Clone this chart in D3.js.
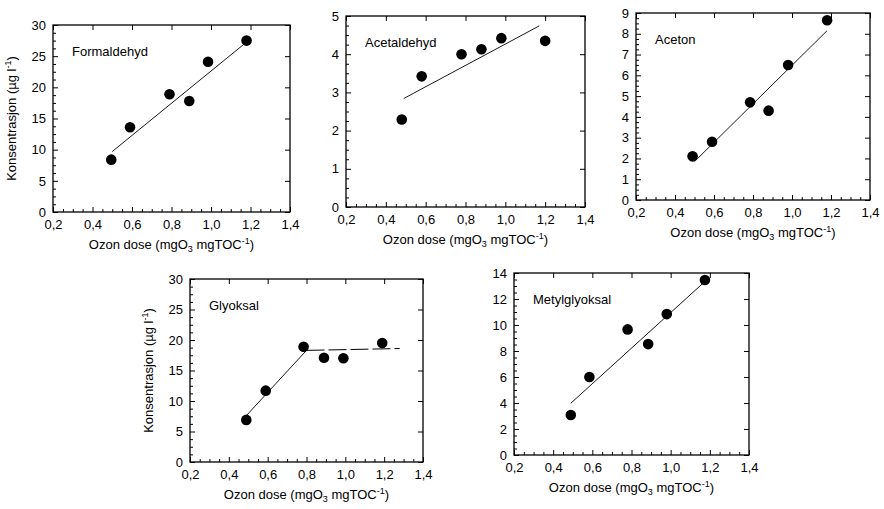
<!DOCTYPE html>
<html>
<head>
<meta charset="utf-8">
<script src="https://cdn.jsdelivr.net/npm/d3@7"></script>
<style>
body { margin: 0; background: #fff; }
svg { display: block; }
text { font-family: "Liberation Sans", Arial, sans-serif; fill: #000; }
</style>
</head>
<body>
<div id="container"><svg></svg></div>
<script>
// values
let names = ['Formaldehyd', 'Acetaldehyd', 'Aceton', 'Glyoksal', 'Metylglyoksal'];
let x_ticks = [0.2, 0.4, 0.6, 0.8, 1.0, 1.2, 1.4];

let formaldehyd_x = [0.495, 0.59, 0.79, 0.89, 0.985, 1.18];
let formaldehyd_y = [8.4, 13.6, 18.9, 17.8, 24.1, 27.5];
let formaldehyd_fit = [[0.5, 9.7], [1.17, 27.0]];

let acetaldehyd_x = [0.48, 0.58, 0.78, 0.88, 0.98, 1.2];
let acetaldehyd_y = [2.29, 3.42, 4.0, 4.13, 4.42, 4.35];
let acetaldehyd_fit = [[0.49, 2.84], [1.17, 4.74]];

let aceton_x = [0.49, 0.59, 0.785, 0.88, 0.98, 1.18];
let aceton_y = [2.1, 2.8, 4.7, 4.3, 6.5, 8.65];
let aceton_fit = [[0.5, 1.85], [1.18, 8.15]];

let glyoksal_x = [0.49, 0.59, 0.785, 0.89, 0.99, 1.19];
let glyoksal_y = [6.9, 11.7, 18.9, 17.1, 17.0, 19.5];
let glyoksal_fit = [[0.49, 7.6], [0.8, 18.3]];
let glyoksal_plateau = [[0.8, 18.3], [1.28, 18.6]];

let metylglyoksal_x = [0.49, 0.585, 0.78, 0.885, 0.98, 1.175];
let metylglyoksal_y = [3.08, 6.0, 9.66, 8.53, 10.84, 13.46];
let metylglyoksal_fit = [[0.49, 3.98], [1.17, 13.28]];

let y_max = [30, 5, 9, 30, 14];
let y_step = [5, 1, 1, 5, 2];

let _width = 884;
let _height = 509;
let fontFamily = '"Liberation Sans", Arial, sans-serif';

// frame of each panel on the page
let frames = [
    {left: 53, right: 290, top: 25, bottom: 212, ytitle: true},
    {left: 346, right: 585, top: 16, bottom: 207, ytitle: false},
    {left: 636, right: 870, top: 13, bottom: 200, ytitle: false},
    {left: 190, right: 423, top: 279, bottom: 462, ytitle: true},
    {left: 514, right: 749, top: 273, bottom: 455, ytitle: false}
];

function comma(v) {
    return d3.format('.1f')(v).replace('.', ',');
}

function draw_panel(svg, i, xs, ys, fits, dashed) {
    let f = frames[i];
    let g = svg.append('g');

    let x = d3.scaleLinear().domain([0.2, 1.4]).range([f.left, f.right]);
    let y = d3.scaleLinear().domain([0, y_max[i]]).range([f.bottom, f.top]);
    let y_major = d3.range(0, y_max[i] + 1e-6, y_step[i]);
    let y_minor = d3.range(0, y_max[i] + 1e-6, y_step[i] / 4).filter((d, k) => k % 4 != 0);
    let x_minor = d3.range(0.2, 1.4 + 1e-6, 0.05).filter((d, k) => k % 4 != 0);

    // bottom axis with labels
    let ax = g.append('g')
        .attr('transform', `translate(0, ${f.bottom})`)
        .call(d3.axisBottom(x).tickValues(x_ticks).tickSizeInner(-5).tickSizeOuter(0).tickPadding(8).tickFormat(comma));
    ax.attr('font-family', fontFamily).attr('font-size', '13px');
    g.append('g')
        .attr('transform', `translate(0, ${f.bottom})`)
        .call(d3.axisBottom(x).tickValues(x_minor).tickSizeInner(-3).tickSizeOuter(0).tickFormat(''));

    // left axis with labels
    let ay = g.append('g')
        .attr('transform', `translate(${f.left}, 0)`)
        .call(d3.axisLeft(y).tickValues(y_major).tickSizeInner(-5).tickSizeOuter(0).tickPadding(7).tickFormat(d3.format('d')));
    ay.attr('font-family', fontFamily).attr('font-size', '13px');
    g.append('g')
        .attr('transform', `translate(${f.left}, 0)`)
        .call(d3.axisLeft(y).tickValues(y_minor).tickSizeInner(-3).tickSizeOuter(0).tickFormat(''));

    // top and right mirror ticks
    g.append('g')
        .attr('transform', `translate(0, ${f.top})`)
        .call(d3.axisTop(x).tickValues(x_ticks).tickSizeInner(-5).tickSizeOuter(0).tickFormat(''));
    g.append('g')
        .attr('transform', `translate(${f.right}, 0)`)
        .call(d3.axisRight(y).tickValues(y_major).tickSizeInner(-5).tickSizeOuter(0).tickFormat(''));

    g.selectAll('.domain').remove();
    g.selectAll('.tick line').attr('stroke', '#000').attr('stroke-width', 1);

    // frame
    g.append('rect')
        .attr('x', f.left)
        .attr('y', f.top)
        .attr('width', f.right - f.left)
        .attr('height', f.bottom - f.top)
        .attr('fill', 'none')
        .attr('stroke', '#000')
        .attr('stroke-width', 1.3);

    // fitted lines
    let line = d3.line().x(d => x(d[0])).y(d => y(d[1]));
    g.append('path')
        .attr('d', line(fits))
        .attr('fill', 'none')
        .attr('stroke', '#000')
        .attr('stroke-width', 0.9);
    if (dashed) {
        g.append('path')
            .attr('d', line(dashed))
            .attr('fill', 'none')
            .attr('stroke', '#000')
            .attr('stroke-width', 1)
            .attr('stroke-dasharray', '18,4');
    }

    // points
    g.append('g')
        .selectAll('circle')
        .data(xs)
        .enter().append('circle')
        .attr('cx', d => x(d))
        .attr('cy', (d, k) => y(ys[k]))
        .attr('r', 5.3)
        .attr('fill', '#000');

    // compound name
    g.append('text')
        .attr('x', f.left + 19)
        .attr('y', f.top + 31)
        .attr('font-size', '13px')
        .text(names[i]);

    // x axis title
    let xt = g.append('text')
        .attr('x', (f.left + f.right) / 2)
        .attr('y', f.bottom + 37)
        .attr('text-anchor', 'middle')
        .attr('font-size', '13px');
    xt.append('tspan').text('Ozon dose  (mgO');
    xt.append('tspan').attr('dy', 3).attr('font-size', '9px').text('3');
    xt.append('tspan').attr('dy', -3).text(' mgTOC');
    xt.append('tspan').attr('dy', -5).attr('font-size', '9px').text('-1');
    xt.append('tspan').attr('dy', 5).text(')');

    // y axis title
    if (f.ytitle) {
        let yt = g.append('text')
            .attr('transform', `translate(${f.left - 37}, ${(f.top + f.bottom) / 2}) rotate(-90)`)
            .attr('text-anchor', 'middle')
            .attr('font-size', '13px');
        yt.append('tspan').text('Konsentrasjon (µg l');
        yt.append('tspan').attr('dy', -5).attr('font-size', '9px').text('-1');
        yt.append('tspan').attr('dy', 5).text(')');
    }
}

function main() {
    let svg = d3.select('#container')
        .select('svg')
        .attr('width', _width)
        .attr('height', _height);

    draw_panel(svg, 0, formaldehyd_x, formaldehyd_y, formaldehyd_fit, null);
    draw_panel(svg, 1, acetaldehyd_x, acetaldehyd_y, acetaldehyd_fit, null);
    draw_panel(svg, 2, aceton_x, aceton_y, aceton_fit, null);
    draw_panel(svg, 3, glyoksal_x, glyoksal_y, glyoksal_fit, glyoksal_plateau);
    draw_panel(svg, 4, metylglyoksal_x, metylglyoksal_y, metylglyoksal_fit, null);
}

main();
</script>
</body>
</html>
